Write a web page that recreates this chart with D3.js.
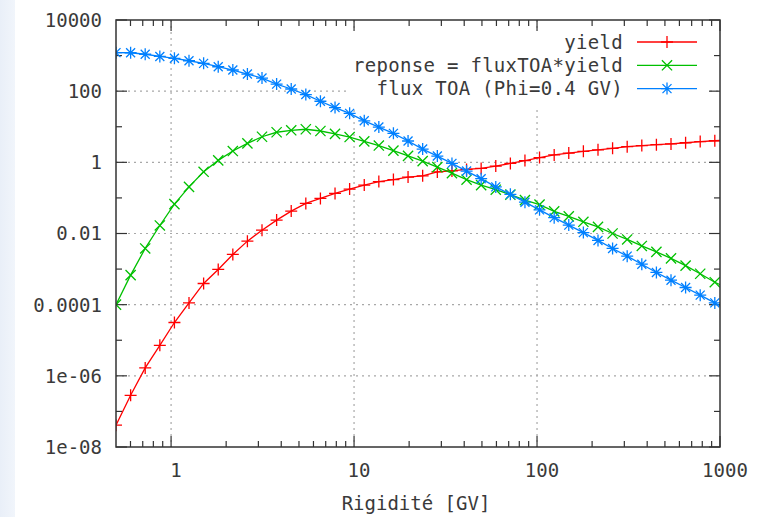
<!DOCTYPE html>
<html>
<head>
<meta charset="utf-8">
<script src="https://cdn.jsdelivr.net/npm/d3@7"></script>
<style>
  body { margin: 0; background: #fff; }
  svg text { font-family: "DejaVu Sans Mono", monospace; font-size: 19px; fill: #3a3a3a; }
  svg text.legend { letter-spacing: 0.3px; }
</style>
</head>
<body>
<svg id="chart" width="760" height="517"></svg>
<script>
// Rigidity samples (GV)
var rigidity = [0.5, 0.601, 0.722, 0.868, 1.043, 1.253, 1.506, 1.81, 2.175, 2.613,
  3.14, 3.774, 4.535, 5.45, 6.549, 7.871, 9.458, 11.37, 13.66, 16.41,
  19.73, 23.71, 28.52, 34.28, 41.2, 49.5, 59.5, 71.5, 85.9, 103.2,
  124.1, 149.1, 179.2, 215.4, 258.8, 311, 373.8, 449.2, 539.8, 648.6,
  779.5, 936.7, 1125.7];

var yieldValues = [4.1e-8, 2.84e-7, 1.67e-6, 7.2e-6, 3.15e-5, 1.12e-4, 3.94e-4, 9.75e-4, 2.58e-3, 6.1e-3,
  0.0124, 0.0238, 0.0426, 0.070, 0.0968, 0.134, 0.177, 0.229, 0.287, 0.327,
  0.385, 0.417, 0.537, 0.575, 0.631, 0.676, 0.783, 0.933, 1.12, 1.36,
  1.62, 1.82, 2.04, 2.25, 2.47, 2.75, 2.96, 3.13, 3.30, 3.55,
  3.83, 4.04, 4.22];

var reponse = [1.0e-4, 6.75e-4, 3.8e-3, 0.0168, 0.067, 0.204, 0.542, 1.135, 2.08, 3.41,
  5.24, 7.0, 7.94, 8.51, 7.59, 6.31, 5.13, 3.88, 2.96, 2.14,
  1.52, 1.08, 0.735, 0.498, 0.325, 0.229, 0.170, 0.124, 0.0867, 0.0649,
  0.042, 0.0302, 0.0213, 0.0154, 0.0100, 6.81e-3, 4.47e-3, 3.05e-3, 2.0e-3, 1.25e-3,
  7.4e-4, 4.27e-4, 2.75e-4];

var fluxTOA = [1210, 1200, 1091, 946, 838, 716, 605, 486, 393, 303,
  234, 158, 115, 80.4, 52.1, 34.6, 23.8, 14.7, 9.8, 6.52,
  3.98, 2.36, 1.50, 0.933, 0.568, 0.347, 0.204, 0.126, 0.0759, 0.0462,
  0.0279, 0.0172, 0.0106, 6.38e-3, 3.8e-3, 2.31e-3, 1.37e-3, 8.04e-4, 4.88e-4, 3.04e-4,
  1.85e-4, 1.12e-4, 6.8e-5];

var seriesNames = ["yield", "reponse = fluxTOA*yield", "flux TOA (Phi=0.4 GV)"];
var seriesColors = ["#ff0000", "#00c000", "#0080ff"];
var seriesMarkers = ["plus", "cross", "star"];

var xTicks = [1, 10, 100, 1000];
var xMinorTicks = [0.6, 0.7, 0.8, 0.9, 2, 3, 4, 5, 6, 7, 8, 9, 20, 30, 40, 50, 60, 70, 80, 90,
  200, 300, 400, 500, 600, 700, 800, 900];
var yTicks = [1e4, 100, 1, 0.01, 1e-4, 1e-6, 1e-8];
var yTickLabels = ["10000", "100", "1", "0.01", "0.0001", "1e-06", "1e-08"];
var yMinorTicks = [1000, 10, 0.1, 0.001, 1e-5, 1e-7];
var xLabel = "Rigidité [GV]";

var margin = { top: 20, right: 40, bottom: 70, left: 116 },
  width = 720 - margin.left,
  height = 447 - margin.top;

var svg = d3.select("#chart");

// light blue strip on the left of the screenshot
var grad = svg.append("defs").append("linearGradient").attr("id", "strip");
grad.append("stop").attr("offset", "0%").attr("stop-color", "#e9eff8");
grad.append("stop").attr("offset", "100%").attr("stop-color", "#f1f5fb");
svg.append("rect").attr("x", 0).attr("y", 0).attr("width", 15).attr("height", 517).attr("fill", "url(#strip)");

svg.select("defs").append("clipPath").attr("id", "plotClip")
  .append("rect").attr("width", width).attr("height", height);

var g = svg.append("g").attr("transform", "translate(" + margin.left + "," + margin.top + ")");

var x = d3.scaleLog().domain([0.5, 1000]).range([0, width]);
var y = d3.scaleLog().domain([1e-8, 1e4]).range([height, 0]);

// grid (dotted, major ticks only)
g.selectAll(".gx").data(xTicks.slice(0, 3)).enter().append("line")
  .attr("x1", d => x(d)).attr("x2", d => x(d)).attr("y1", 0).attr("y2", height)
  .attr("stroke", "#a8a8a8").attr("stroke-width", 1.2).attr("stroke-dasharray", "2,4");
g.selectAll(".gy").data(yTicks.slice(1, 6)).enter().append("line")
  .attr("y1", d => y(d)).attr("y2", d => y(d)).attr("x1", 0).attr("x2", width)
  .attr("stroke", "#a8a8a8").attr("stroke-width", 1.2).attr("stroke-dasharray", "2,4");

// legend background hides the grid behind it
g.append("rect").attr("x", 230).attr("y", 10).attr("width", 360).attr("height", 80).attr("fill", "#fff");

// ticks on all four sides, pointing inward
var tickColor = "#333";
function vTicks(values, len) {
  values.forEach(function (v) {
    g.append("line").attr("x1", x(v)).attr("x2", x(v)).attr("y1", height).attr("y2", height - len)
      .attr("stroke", tickColor).attr("stroke-width", 1.2);
    g.append("line").attr("x1", x(v)).attr("x2", x(v)).attr("y1", 0).attr("y2", len)
      .attr("stroke", tickColor).attr("stroke-width", 1.2);
  });
}
function hTicks(values, len) {
  values.forEach(function (v) {
    g.append("line").attr("y1", y(v)).attr("y2", y(v)).attr("x1", 0).attr("x2", len)
      .attr("stroke", tickColor).attr("stroke-width", 1.2);
    g.append("line").attr("y1", y(v)).attr("y2", y(v)).attr("x1", width).attr("x2", width - len)
      .attr("stroke", tickColor).attr("stroke-width", 1.2);
  });
}
vTicks(xTicks, 11);
vTicks(xMinorTicks, 6);
hTicks(yTicks, 11);
hTicks(yMinorTicks, 6);

// tick labels
g.selectAll(".xl").data(xTicks).enter().append("text")
  .attr("x", d => x(d) + 5).attr("y", height + 30)
  .attr("text-anchor", "middle").text(d => d);
g.selectAll(".yl").data(yTicks).enter().append("text")
  .attr("x", -14).attr("y", d => y(d)).attr("dy", "0.36em")
  .attr("text-anchor", "end").text((d, i) => yTickLabels[i]);

svg.append("text").attr("x", 416).attr("y", 510).attr("text-anchor", "middle").text(xLabel);

// marker shapes
function markerPath(type, s) {
  var p = "";
  if (type === "plus" || type === "star") p += "M" + (-s) + ",0H" + s + "M0," + (-s) + "V" + s;
  if (type === "cross" || type === "star") {
    var c = type === "star" ? s * 0.75 : s * 0.85;
    p += "M" + (-c) + "," + (-c) + "L" + c + "," + c + "M" + (-c) + "," + c + "L" + c + "," + (-c);
  }
  return p;
}

var allSeries = [yieldValues, reponse, fluxTOA];
var plot = g.append("g").attr("clip-path", "url(#plotClip)");
var line = d3.line().x(d => x(d[0])).y(d => y(d[1]));

allSeries.forEach(function (vals, k) {
  var pts = rigidity.map((r, i) => [r, vals[i]]);
  plot.append("path").datum(pts).attr("d", line)
    .attr("fill", "none").attr("stroke", seriesColors[k]).attr("stroke-width", 1.3);
  plot.selectAll(".m" + k).data(pts.filter(d => d[0] <= 1000)).enter().append("path")
    .attr("transform", d => "translate(" + x(d[0]) + "," + y(d[1]) + ")")
    .attr("d", markerPath(seriesMarkers[k], 6))
    .attr("fill", "none").attr("stroke", seriesColors[k]).attr("stroke-width", 1.3);
});

// legend
seriesNames.forEach(function (name, k) {
  var ly = 22 + k * 23.3;
  g.append("text").attr("class", "legend").attr("x", 507).attr("y", ly).attr("dy", "0.36em")
    .attr("text-anchor", "end").text(name);
  g.append("line").attr("x1", 521).attr("x2", 581).attr("y1", ly).attr("y2", ly)
    .attr("stroke", seriesColors[k]).attr("stroke-width", 1.3);
  g.append("path").attr("transform", "translate(551," + ly + ")")
    .attr("d", markerPath(seriesMarkers[k], 6))
    .attr("fill", "none").attr("stroke", seriesColors[k]).attr("stroke-width", 1.3);
});

// border
g.append("rect").attr("width", width).attr("height", height)
  .attr("fill", "none").attr("stroke", "#333").attr("stroke-width", 1.5);
</script>
</body>
</html>
